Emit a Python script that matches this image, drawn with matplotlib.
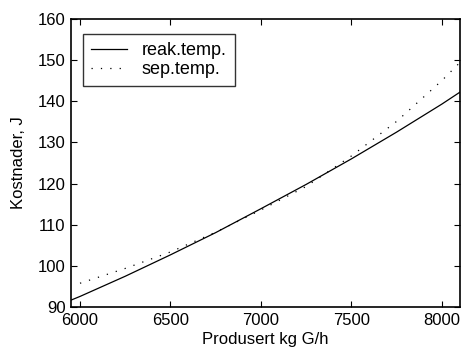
import numpy as np
import matplotlib.pyplot as plt

plt.rcParams['font.family'] = ['Liberation Sans', 'DejaVu Sans']

# production (kg G/h) and costs (J)
x_reak = [5950, 6000, 6250, 6500, 6750, 7000, 7250, 7500, 7750, 8000, 8100]
y_reak = [91.7, 92.6, 97.5, 102.7, 108.1, 113.9, 119.8, 126.0, 132.5, 139.3, 142.2]

x_sep = [6000, 6250, 6500, 6750, 7000, 7250, 7500, 7750, 8000, 8100]
y_sep = [95.8, 99.4, 103.4, 108.2, 113.6, 119.3, 126.7, 135.1, 145.0, 149.4]

fig = plt.figure(figsize=(4.64, 3.51), dpi=100)
ax = fig.add_axes([0.153, 0.125, 0.838, 0.821])

ax.plot(x_reak, y_reak, color='black', lw=0.9, label='reak.temp.')
ax.plot(x_sep, y_sep, color='black', lw=0.9, linestyle=(0, (1, 6.5)), label='sep.temp.')

ax.set_xlim(5950, 8100)
ax.set_ylim(90, 160)
ax.set_xticks([6000, 6500, 7000, 7500, 8000])
ax.set_yticks(range(90, 161, 10))
ax.tick_params(direction='in', top=True, right=True, labelsize=12, length=4,
               width=0.8, pad=4)
for s in ax.spines.values():
    s.set_linewidth(1.2)

ax.set_xlabel('Produsert kg G/h', fontsize=12, labelpad=3)
ax.set_ylabel('Kostnader, J', fontsize=12, labelpad=8)

leg = ax.legend(loc='upper left', bbox_to_anchor=(0.031, 0.948), borderaxespad=0,
                fontsize=13, frameon=True, fancybox=False, edgecolor='black',
                handlelength=2.0, borderpad=0.45, labelspacing=0.1)
leg.get_frame().set_linewidth(1.0)

fig.savefig('out.png', dpi=100)
